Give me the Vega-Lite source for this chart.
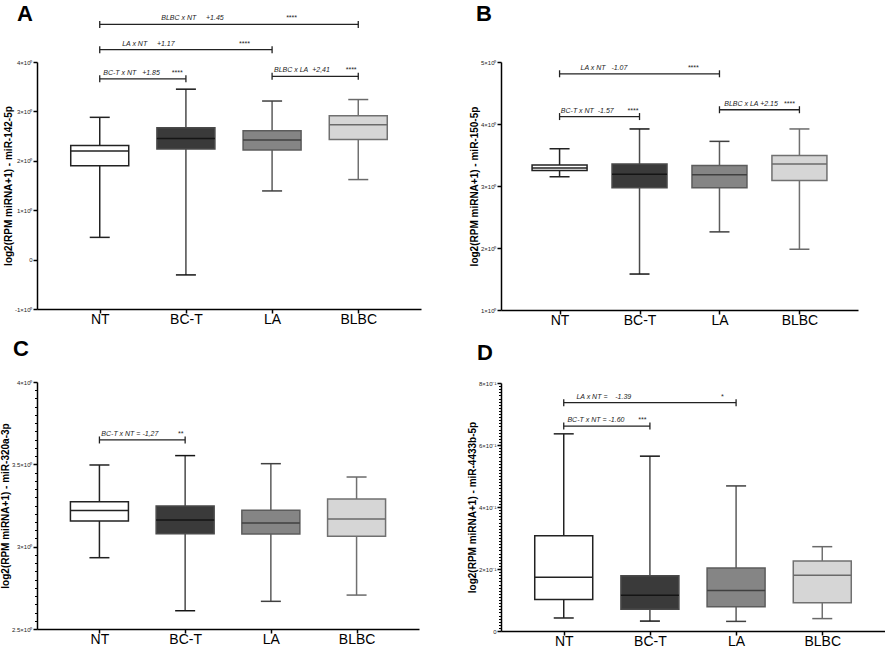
{
  "$schema": "https://vega.github.io/schema/vega-lite/v6.json",
  "padding": {"left": 0, "top": 3, "right": 0, "bottom": 0},
  "spacing": 46,
  "datasets": {
    "boxes": [
      {"panel": "A", "group": "NT", "pos": 1, "min": 0.45, "q1": 1.90, "median": 2.20, "q3": 2.31, "max": 2.88},
      {"panel": "A", "group": "BC-T", "pos": 2, "min": -0.31, "q1": 2.24, "median": 2.45, "q3": 2.67, "max": 3.45},
      {"panel": "A", "group": "LA", "pos": 3, "min": 1.39, "q1": 2.22, "median": 2.42, "q3": 2.61, "max": 3.21},
      {"panel": "A", "group": "BLBC", "pos": 4, "min": 1.62, "q1": 2.43, "median": 2.73, "q3": 2.91, "max": 3.24},
      {"panel": "B", "group": "NT", "pos": 1, "min": 3.15, "q1": 3.25, "median": 3.29, "q3": 3.34, "max": 3.60},
      {"panel": "B", "group": "BC-T", "pos": 2, "min": 1.58, "q1": 2.97, "median": 3.19, "q3": 3.355, "max": 3.92},
      {"panel": "B", "group": "LA", "pos": 3, "min": 2.26, "q1": 2.97, "median": 3.18, "q3": 3.33, "max": 3.72},
      {"panel": "B", "group": "BLBC", "pos": 4, "min": 1.98, "q1": 3.09, "median": 3.355, "q3": 3.49, "max": 3.92},
      {"panel": "C", "group": "NT", "pos": 1, "min": 2.933, "q1": 3.156, "median": 3.219, "q3": 3.273, "max": 3.496},
      {"panel": "C", "group": "BC-T", "pos": 2, "min": 2.611, "q1": 3.079, "median": 3.162, "q3": 3.247, "max": 3.553},
      {"panel": "C", "group": "LA", "pos": 3, "min": 2.668, "q1": 3.077, "median": 3.144, "q3": 3.221, "max": 3.504},
      {"panel": "C", "group": "BLBC", "pos": 4, "min": 2.706, "q1": 3.063, "median": 3.168, "q3": 3.289, "max": 3.423},
      {"panel": "D", "group": "NT", "pos": 1, "min": 0.042, "q1": 0.102, "median": 0.173, "q3": 0.307, "max": 0.636},
      {"panel": "D", "group": "BC-T", "pos": 2, "min": 0.032, "q1": 0.070, "median": 0.115, "q3": 0.178, "max": 0.564},
      {"panel": "D", "group": "LA", "pos": 3, "min": 0.031, "q1": 0.078, "median": 0.131, "q3": 0.2035, "max": 0.468},
      {"panel": "D", "group": "BLBC", "pos": 4, "min": 0.040, "q1": 0.0915, "median": 0.180, "q3": 0.226, "max": 0.272}
    ],
    "brackets": [
      {"panel": "A", "from": 1, "to": 4, "y": 4.76, "label": "BLBC x NT\u00a0\u00a0\u00a0\u00a0\u00a0+1.45\u00a0\u00a0\u00a0\u00a0\u00a0\u00a0\u00a0\u00a0\u00a0\u00a0\u00a0\u00a0\u00a0\u00a0\u00a0\u00a0\u00a0\u00a0\u00a0\u00a0\u00a0\u00a0\u00a0\u00a0\u00a0\u00a0\u00a0\u00a0\u00a0\u00a0\u00a0\u00a0****\u00a0\u00a0"},
      {"panel": "A", "from": 1, "to": 3, "y": 4.25, "label": "LA x NT\u00a0\u00a0\u00a0\u00a0\u00a0+1.17\u00a0\u00a0\u00a0\u00a0\u00a0\u00a0\u00a0\u00a0\u00a0\u00a0\u00a0\u00a0\u00a0\u00a0\u00a0\u00a0\u00a0\u00a0\u00a0\u00a0\u00a0\u00a0\u00a0\u00a0\u00a0\u00a0\u00a0\u00a0\u00a0\u00a0\u00a0\u00a0\u00a0****\u00a0\u00a0"},
      {"panel": "A", "from": 1, "to": 2, "y": 3.66, "label": "BC-T x NT\u00a0\u00a0\u00a0+1.85\u00a0\u00a0\u00a0\u00a0\u00a0\u00a0****\u00a0\u00a0"},
      {"panel": "A", "from": 3, "to": 4, "y": 3.71, "label": "BLBC x LA\u00a0\u00a0+2,41\u00a0\u00a0\u00a0\u00a0\u00a0\u00a0\u00a0\u00a0****\u00a0\u00a0"},
      {"panel": "B", "from": 1, "to": 3, "y": 4.81, "label": "LA x NT\u00a0\u00a0\u00a0-1.07\u00a0\u00a0\u00a0\u00a0\u00a0\u00a0\u00a0\u00a0\u00a0\u00a0\u00a0\u00a0\u00a0\u00a0\u00a0\u00a0\u00a0\u00a0\u00a0\u00a0\u00a0\u00a0\u00a0\u00a0\u00a0\u00a0\u00a0\u00a0\u00a0\u00a0\u00a0****\u00a0\u00a0"},
      {"panel": "B", "from": 1, "to": 2, "y": 4.12, "label": "BC-T x NT\u00a0\u00a0-1.57\u00a0\u00a0\u00a0\u00a0\u00a0\u00a0\u00a0****\u00a0\u00a0"},
      {"panel": "B", "from": 3, "to": 4, "y": 4.23, "label": "BLBC x LA +2.15\u00a0\u00a0\u00a0****\u00a0\u00a0"},
      {"panel": "C", "from": 1, "to": 2, "y": 3.648, "label": "BC-T x NT = -1,27\u00a0\u00a0\u00a0\u00a0\u00a0\u00a0\u00a0\u00a0\u00a0\u00a0**\u00a0"},
      {"panel": "D", "from": 1, "to": 3, "y": 0.7365, "label": "LA x NT =\u00a0\u00a0\u00a0\u00a0-1.39\u00a0\u00a0\u00a0\u00a0\u00a0\u00a0\u00a0\u00a0\u00a0\u00a0\u00a0\u00a0\u00a0\u00a0\u00a0\u00a0\u00a0\u00a0\u00a0\u00a0\u00a0\u00a0\u00a0\u00a0\u00a0\u00a0\u00a0\u00a0\u00a0\u00a0\u00a0\u00a0\u00a0\u00a0\u00a0\u00a0\u00a0\u00a0\u00a0\u00a0\u00a0\u00a0\u00a0\u00a0\u00a0\u00a0*\u00a0"},
      {"panel": "D", "from": 1, "to": 2, "y": 0.661, "label": "BC-T x NT = -1.60\u00a0\u00a0\u00a0\u00a0\u00a0\u00a0\u00a0***\u00a0"}
    ]
  },
  "hconcat": [
    {
      "spacing": 12,
      "vconcat": [
        {
          "width": 384, "height": 247,
          "title": {"text": "A", "anchor": "start", "frame": "group", "fontSize": 22, "fontWeight": "bold", "dx": -20, "offset": -12},
          "layer": [
            {"data": {"name": "boxes"}, "transform": [{"filter": "datum.panel == 'A'"}],
             "mark": {"type": "rule", "strokeWidth": 1.5, "opacity": 1},
             "encoding": {
               "x": {"field": "pos", "type": "quantitative", "scale": {"domain": [0.33, 4.67]}},
               "y": {"field": "min", "type": "quantitative", "scale": {"domain": [-1, 4], "nice": false, "zero": false}},
               "y2": {"field": "max"},
               "stroke": {"field": "group", "type": "nominal", "scale": {"domain": ["NT", "BC-T", "LA", "BLBC"], "range": ["#222222", "#4a4a4a", "#5c5c5c", "#707070"]}, "legend": null}}},
            {"data": {"name": "boxes"}, "transform": [{"filter": "datum.panel == 'A'"}],
             "mark": {"type": "tick", "orient": "horizontal", "size": 20, "thickness": 1.5, "opacity": 1},
             "encoding": {
               "x": {"field": "pos", "type": "quantitative", "scale": {"domain": [0.33, 4.67]}},
               "y": {"field": "min", "type": "quantitative", "scale": {"domain": [-1, 4], "nice": false, "zero": false}},
               "color": {"field": "group", "type": "nominal", "scale": {"domain": ["NT", "BC-T", "LA", "BLBC"], "range": ["#222222", "#151515", "#404040", "#6a6a6a"]}, "legend": null}}},
            {"data": {"name": "boxes"}, "transform": [{"filter": "datum.panel == 'A'"}],
             "mark": {"type": "tick", "orient": "horizontal", "size": 20, "thickness": 1.5, "opacity": 1},
             "encoding": {
               "x": {"field": "pos", "type": "quantitative", "scale": {"domain": [0.33, 4.67]}},
               "y": {"field": "max", "type": "quantitative", "scale": {"domain": [-1, 4], "nice": false, "zero": false}},
               "color": {"field": "group", "type": "nominal", "scale": {"domain": ["NT", "BC-T", "LA", "BLBC"], "range": ["#222222", "#151515", "#404040", "#6a6a6a"]}, "legend": null}}},
            {"data": {"name": "boxes"}, "transform": [{"filter": "datum.panel == 'A'"}],
             "mark": {"type": "bar", "size": 58, "strokeWidth": 1.5, "opacity": 1},
             "encoding": {
               "x": {"field": "pos", "type": "quantitative", "scale": {"domain": [0.33, 4.67]}, "axis": {"orient": "bottom", "values": [1, 2, 3, 4], "labelExpr": "['','NT','BC-T','LA','BLBC'][datum.value]", "title": null}},
               "y": {"field": "q1", "type": "quantitative", "scale": {"domain": [-1, 4], "nice": false, "zero": false}, "axis": {"orient": "left", "values": [-1, 0, 1, 2, 3, 4], "labelExpr": "datum.value == 0 ? '0' : datum.value + '×10⁰'", "title": "log2(RPM miRNA+1) - miR-142-5p"}},
               "y2": {"field": "q3"},
               "fill": {"field": "group", "type": "nominal", "scale": {"domain": ["NT", "BC-T", "LA", "BLBC"], "range": ["#ffffff", "#3a3a3a", "#858585", "#d6d6d6"]}, "legend": null},
               "stroke": {"field": "group", "type": "nominal", "scale": {"domain": ["NT", "BC-T", "LA", "BLBC"], "range": ["#222222", "#4a4a4a", "#5c5c5c", "#707070"]}, "legend": null}}},
            {"data": {"name": "boxes"}, "transform": [{"filter": "datum.panel == 'A'"}],
             "mark": {"type": "tick", "orient": "horizontal", "size": 58, "thickness": 1.5, "opacity": 1},
             "encoding": {
               "x": {"field": "pos", "type": "quantitative", "scale": {"domain": [0.33, 4.67]}},
               "y": {"field": "median", "type": "quantitative", "scale": {"domain": [-1, 4], "nice": false, "zero": false}},
               "color": {"field": "group", "type": "nominal", "scale": {"domain": ["NT", "BC-T", "LA", "BLBC"], "range": ["#222222", "#151515", "#404040", "#6a6a6a"]}, "legend": null}}},
            {"data": {"name": "brackets"}, "transform": [{"filter": "datum.panel == 'A'"}],
             "mark": {"type": "rule", "strokeWidth": 1.3, "color": "#222222", "opacity": 1},
             "encoding": {
               "x": {"field": "from", "type": "quantitative", "scale": {"domain": [0.33, 4.67]}},
               "x2": {"field": "to"},
               "y": {"field": "y", "type": "quantitative", "scale": {"domain": [-1, 4], "nice": false, "zero": false}}}},
            {"data": {"name": "brackets"}, "transform": [{"filter": "datum.panel == 'A'"}, {"fold": ["from", "to"], "as": ["end", "xpos"]}],
             "mark": {"type": "tick", "orient": "vertical", "size": 7, "thickness": 1.3, "color": "#222222", "opacity": 1},
             "encoding": {
               "x": {"field": "xpos", "type": "quantitative", "scale": {"domain": [0.33, 4.67]}},
               "y": {"field": "y", "type": "quantitative", "scale": {"domain": [-1, 4], "nice": false, "zero": false}}}},
            {"data": {"name": "brackets"}, "transform": [{"filter": "datum.panel == 'A'"}, {"fold": ["from", "to"], "as": ["end", "xpos"]}],
             "mark": {"type": "text", "fontSize": 7, "fontStyle": "italic", "color": "#222222", "align": "center", "baseline": "alphabetic", "dy": -4},
             "encoding": {
               "x": {"aggregate": "mean", "field": "xpos", "type": "quantitative", "scale": {"domain": [0.33, 4.67]}},
               "y": {"field": "y", "type": "quantitative", "scale": {"domain": [-1, 4], "nice": false, "zero": false}},
               "text": {"field": "label", "type": "nominal"}}}
          ]
        },
        {
          "width": 382, "height": 247,
          "title": {"text": "C", "anchor": "start", "frame": "group", "fontSize": 22, "fontWeight": "bold", "dx": -24, "offset": 18},
          "resolve": {"axis": {"y": "independent"}},
          "layer": [
            {"data": {"name": "boxes"}, "transform": [{"filter": "datum.panel == 'C'"}],
             "mark": {"type": "rule", "strokeWidth": 1.5, "opacity": 1},
             "encoding": {
               "x": {"field": "pos", "type": "quantitative", "scale": {"domain": [0.33, 4.67]}},
               "y": {"field": "min", "type": "quantitative", "scale": {"domain": [2.5, 4], "nice": false, "zero": false}, "axis": {"orient": "left", "values": [2.55, 2.6, 2.65, 2.7, 2.75, 2.8, 2.85, 2.9, 2.95, 3.05, 3.1, 3.15, 3.2, 3.25, 3.3, 3.35, 3.4, 3.45, 3.55, 3.6, 3.65, 3.7, 3.75, 3.8, 3.85, 3.9, 3.95], "labels": false, "domain": false, "tickSize": 2.5, "tickWidth": 1, "title": null}},
               "y2": {"field": "max"},
               "stroke": {"field": "group", "type": "nominal", "scale": {"domain": ["NT", "BC-T", "LA", "BLBC"], "range": ["#222222", "#4a4a4a", "#5c5c5c", "#707070"]}, "legend": null}}},
            {"data": {"name": "boxes"}, "transform": [{"filter": "datum.panel == 'C'"}],
             "mark": {"type": "tick", "orient": "horizontal", "size": 20, "thickness": 1.5, "opacity": 1},
             "encoding": {
               "x": {"field": "pos", "type": "quantitative", "scale": {"domain": [0.33, 4.67]}},
               "y": {"field": "min", "type": "quantitative", "scale": {"domain": [2.5, 4], "nice": false, "zero": false}, "axis": null},
               "color": {"field": "group", "type": "nominal", "scale": {"domain": ["NT", "BC-T", "LA", "BLBC"], "range": ["#222222", "#151515", "#404040", "#6a6a6a"]}, "legend": null}}},
            {"data": {"name": "boxes"}, "transform": [{"filter": "datum.panel == 'C'"}],
             "mark": {"type": "tick", "orient": "horizontal", "size": 20, "thickness": 1.5, "opacity": 1},
             "encoding": {
               "x": {"field": "pos", "type": "quantitative", "scale": {"domain": [0.33, 4.67]}},
               "y": {"field": "max", "type": "quantitative", "scale": {"domain": [2.5, 4], "nice": false, "zero": false}, "axis": null},
               "color": {"field": "group", "type": "nominal", "scale": {"domain": ["NT", "BC-T", "LA", "BLBC"], "range": ["#222222", "#151515", "#404040", "#6a6a6a"]}, "legend": null}}},
            {"data": {"name": "boxes"}, "transform": [{"filter": "datum.panel == 'C'"}],
             "mark": {"type": "bar", "size": 58, "strokeWidth": 1.5, "opacity": 1},
             "encoding": {
               "x": {"field": "pos", "type": "quantitative", "scale": {"domain": [0.33, 4.67]}, "axis": {"orient": "bottom", "values": [1, 2, 3, 4], "labelExpr": "['','NT','BC-T','LA','BLBC'][datum.value]", "title": null}},
               "y": {"field": "q1", "type": "quantitative", "scale": {"domain": [2.5, 4], "nice": false, "zero": false}, "axis": {"orient": "left", "values": [2.5, 3, 3.5, 4], "labelExpr": "datum.value + '×10⁰'", "title": "log2(RPM miRNA+1) - miR-320a-3p"}},
               "y2": {"field": "q3"},
               "fill": {"field": "group", "type": "nominal", "scale": {"domain": ["NT", "BC-T", "LA", "BLBC"], "range": ["#ffffff", "#3a3a3a", "#858585", "#d6d6d6"]}, "legend": null},
               "stroke": {"field": "group", "type": "nominal", "scale": {"domain": ["NT", "BC-T", "LA", "BLBC"], "range": ["#222222", "#4a4a4a", "#5c5c5c", "#707070"]}, "legend": null}}},
            {"data": {"name": "boxes"}, "transform": [{"filter": "datum.panel == 'C'"}],
             "mark": {"type": "tick", "orient": "horizontal", "size": 58, "thickness": 1.5, "opacity": 1},
             "encoding": {
               "x": {"field": "pos", "type": "quantitative", "scale": {"domain": [0.33, 4.67]}},
               "y": {"field": "median", "type": "quantitative", "scale": {"domain": [2.5, 4], "nice": false, "zero": false}, "axis": null},
               "color": {"field": "group", "type": "nominal", "scale": {"domain": ["NT", "BC-T", "LA", "BLBC"], "range": ["#222222", "#151515", "#404040", "#6a6a6a"]}, "legend": null}}},
            {"data": {"name": "brackets"}, "transform": [{"filter": "datum.panel == 'C'"}],
             "mark": {"type": "rule", "strokeWidth": 1.3, "color": "#222222", "opacity": 1},
             "encoding": {
               "x": {"field": "from", "type": "quantitative", "scale": {"domain": [0.33, 4.67]}},
               "x2": {"field": "to"},
               "y": {"field": "y", "type": "quantitative", "scale": {"domain": [2.5, 4], "nice": false, "zero": false}, "axis": null}}},
            {"data": {"name": "brackets"}, "transform": [{"filter": "datum.panel == 'C'"}, {"fold": ["from", "to"], "as": ["end", "xpos"]}],
             "mark": {"type": "tick", "orient": "vertical", "size": 7, "thickness": 1.3, "color": "#222222", "opacity": 1},
             "encoding": {
               "x": {"field": "xpos", "type": "quantitative", "scale": {"domain": [0.33, 4.67]}},
               "y": {"field": "y", "type": "quantitative", "scale": {"domain": [2.5, 4], "nice": false, "zero": false}, "axis": null}}},
            {"data": {"name": "brackets"}, "transform": [{"filter": "datum.panel == 'C'"}, {"fold": ["from", "to"], "as": ["end", "xpos"]}],
             "mark": {"type": "text", "fontSize": 7, "fontStyle": "italic", "color": "#222222", "align": "center", "baseline": "alphabetic", "dy": -4},
             "encoding": {
               "x": {"aggregate": "mean", "field": "xpos", "type": "quantitative", "scale": {"domain": [0.33, 4.67]}},
               "y": {"field": "y", "type": "quantitative", "scale": {"domain": [2.5, 4], "nice": false, "zero": false}, "axis": null},
               "text": {"field": "label", "type": "nominal"}}}
          ]
        }
      ]
    },
    {
      "spacing": 15,
      "vconcat": [
        {
          "width": 357, "height": 248,
          "title": {"text": "B", "anchor": "start", "frame": "group", "fontSize": 22, "fontWeight": "bold", "dx": -25, "offset": 33},
          "layer": [
            {"data": {"name": "boxes"}, "transform": [{"filter": "datum.panel == 'B'"}],
             "mark": {"type": "rule", "strokeWidth": 1.5, "opacity": 1},
             "encoding": {
               "x": {"field": "pos", "type": "quantitative", "scale": {"domain": [0.33, 4.67]}},
               "y": {"field": "min", "type": "quantitative", "scale": {"domain": [1, 5], "nice": false, "zero": false}},
               "y2": {"field": "max"},
               "stroke": {"field": "group", "type": "nominal", "scale": {"domain": ["NT", "BC-T", "LA", "BLBC"], "range": ["#222222", "#4a4a4a", "#5c5c5c", "#707070"]}, "legend": null}}},
            {"data": {"name": "boxes"}, "transform": [{"filter": "datum.panel == 'B'"}],
             "mark": {"type": "tick", "orient": "horizontal", "size": 20, "thickness": 1.5, "opacity": 1},
             "encoding": {
               "x": {"field": "pos", "type": "quantitative", "scale": {"domain": [0.33, 4.67]}},
               "y": {"field": "min", "type": "quantitative", "scale": {"domain": [1, 5], "nice": false, "zero": false}},
               "color": {"field": "group", "type": "nominal", "scale": {"domain": ["NT", "BC-T", "LA", "BLBC"], "range": ["#222222", "#151515", "#404040", "#6a6a6a"]}, "legend": null}}},
            {"data": {"name": "boxes"}, "transform": [{"filter": "datum.panel == 'B'"}],
             "mark": {"type": "tick", "orient": "horizontal", "size": 20, "thickness": 1.5, "opacity": 1},
             "encoding": {
               "x": {"field": "pos", "type": "quantitative", "scale": {"domain": [0.33, 4.67]}},
               "y": {"field": "max", "type": "quantitative", "scale": {"domain": [1, 5], "nice": false, "zero": false}},
               "color": {"field": "group", "type": "nominal", "scale": {"domain": ["NT", "BC-T", "LA", "BLBC"], "range": ["#222222", "#151515", "#404040", "#6a6a6a"]}, "legend": null}}},
            {"data": {"name": "boxes"}, "transform": [{"filter": "datum.panel == 'B'"}],
             "mark": {"type": "bar", "size": 55, "strokeWidth": 1.5, "opacity": 1},
             "encoding": {
               "x": {"field": "pos", "type": "quantitative", "scale": {"domain": [0.33, 4.67]}, "axis": {"orient": "bottom", "values": [1, 2, 3, 4], "labelExpr": "['','NT','BC-T','LA','BLBC'][datum.value]", "title": null}},
               "y": {"field": "q1", "type": "quantitative", "scale": {"domain": [1, 5], "nice": false, "zero": false}, "axis": {"orient": "left", "values": [1, 2, 3, 4, 5], "labelExpr": "datum.value + '×10⁰'", "title": "log2(RPM miRNA+1) - miR-150-5p"}},
               "y2": {"field": "q3"},
               "fill": {"field": "group", "type": "nominal", "scale": {"domain": ["NT", "BC-T", "LA", "BLBC"], "range": ["#ffffff", "#3a3a3a", "#858585", "#d6d6d6"]}, "legend": null},
               "stroke": {"field": "group", "type": "nominal", "scale": {"domain": ["NT", "BC-T", "LA", "BLBC"], "range": ["#222222", "#4a4a4a", "#5c5c5c", "#707070"]}, "legend": null}}},
            {"data": {"name": "boxes"}, "transform": [{"filter": "datum.panel == 'B'"}],
             "mark": {"type": "tick", "orient": "horizontal", "size": 55, "thickness": 1.5, "opacity": 1},
             "encoding": {
               "x": {"field": "pos", "type": "quantitative", "scale": {"domain": [0.33, 4.67]}},
               "y": {"field": "median", "type": "quantitative", "scale": {"domain": [1, 5], "nice": false, "zero": false}},
               "color": {"field": "group", "type": "nominal", "scale": {"domain": ["NT", "BC-T", "LA", "BLBC"], "range": ["#222222", "#151515", "#404040", "#6a6a6a"]}, "legend": null}}},
            {"data": {"name": "brackets"}, "transform": [{"filter": "datum.panel == 'B'"}],
             "mark": {"type": "rule", "strokeWidth": 1.3, "color": "#222222", "opacity": 1},
             "encoding": {
               "x": {"field": "from", "type": "quantitative", "scale": {"domain": [0.33, 4.67]}},
               "x2": {"field": "to"},
               "y": {"field": "y", "type": "quantitative", "scale": {"domain": [1, 5], "nice": false, "zero": false}}}},
            {"data": {"name": "brackets"}, "transform": [{"filter": "datum.panel == 'B'"}, {"fold": ["from", "to"], "as": ["end", "xpos"]}],
             "mark": {"type": "tick", "orient": "vertical", "size": 7, "thickness": 1.3, "color": "#222222", "opacity": 1},
             "encoding": {
               "x": {"field": "xpos", "type": "quantitative", "scale": {"domain": [0.33, 4.67]}},
               "y": {"field": "y", "type": "quantitative", "scale": {"domain": [1, 5], "nice": false, "zero": false}}}},
            {"data": {"name": "brackets"}, "transform": [{"filter": "datum.panel == 'B'"}, {"fold": ["from", "to"], "as": ["end", "xpos"]}],
             "mark": {"type": "text", "fontSize": 7, "fontStyle": "italic", "color": "#222222", "align": "center", "baseline": "alphabetic", "dy": -4},
             "encoding": {
               "x": {"aggregate": "mean", "field": "xpos", "type": "quantitative", "scale": {"domain": [0.33, 4.67]}},
               "y": {"field": "y", "type": "quantitative", "scale": {"domain": [1, 5], "nice": false, "zero": false}},
               "text": {"field": "label", "type": "nominal"}}}
          ]
        },
        {
          "width": 384, "height": 248,
          "title": {"text": "D", "anchor": "start", "frame": "group", "fontSize": 22, "fontWeight": "bold", "dx": -24, "offset": 15},
          "resolve": {"axis": {"y": "independent"}},
          "layer": [
            {"data": {"name": "boxes"}, "transform": [{"filter": "datum.panel == 'D'"}],
             "mark": {"type": "rule", "strokeWidth": 1.5, "opacity": 1},
             "encoding": {
               "x": {"field": "pos", "type": "quantitative", "scale": {"domain": [0.33, 4.67]}},
               "y": {"field": "min", "type": "quantitative", "scale": {"domain": [0, 0.8], "nice": false, "zero": false}, "axis": {"orient": "left", "values": [0.01, 0.02, 0.03, 0.04, 0.05, 0.06, 0.07, 0.08, 0.09, 0.1, 0.11, 0.12, 0.13, 0.14, 0.15, 0.16, 0.17, 0.18, 0.19, 0.21, 0.22, 0.23, 0.24, 0.25, 0.26, 0.27, 0.28, 0.29, 0.3, 0.31, 0.32, 0.33, 0.34, 0.35, 0.36, 0.37, 0.38, 0.39, 0.41, 0.42, 0.43, 0.44, 0.45, 0.46, 0.47, 0.48, 0.49, 0.5, 0.51, 0.52, 0.53, 0.54, 0.55, 0.56, 0.57, 0.58, 0.59, 0.61, 0.62, 0.63, 0.64, 0.65, 0.66, 0.67, 0.68, 0.69, 0.7, 0.71, 0.72, 0.73, 0.74, 0.75, 0.76, 0.77, 0.78, 0.79], "labels": false, "domain": false, "tickSize": 2.5, "tickWidth": 1, "title": null}},
               "y2": {"field": "max"},
               "stroke": {"field": "group", "type": "nominal", "scale": {"domain": ["NT", "BC-T", "LA", "BLBC"], "range": ["#222222", "#4a4a4a", "#5c5c5c", "#707070"]}, "legend": null}}},
            {"data": {"name": "boxes"}, "transform": [{"filter": "datum.panel == 'D'"}],
             "mark": {"type": "tick", "orient": "horizontal", "size": 20, "thickness": 1.5, "opacity": 1},
             "encoding": {
               "x": {"field": "pos", "type": "quantitative", "scale": {"domain": [0.33, 4.67]}},
               "y": {"field": "min", "type": "quantitative", "scale": {"domain": [0, 0.8], "nice": false, "zero": false}, "axis": null},
               "color": {"field": "group", "type": "nominal", "scale": {"domain": ["NT", "BC-T", "LA", "BLBC"], "range": ["#222222", "#151515", "#404040", "#6a6a6a"]}, "legend": null}}},
            {"data": {"name": "boxes"}, "transform": [{"filter": "datum.panel == 'D'"}],
             "mark": {"type": "tick", "orient": "horizontal", "size": 20, "thickness": 1.5, "opacity": 1},
             "encoding": {
               "x": {"field": "pos", "type": "quantitative", "scale": {"domain": [0.33, 4.67]}},
               "y": {"field": "max", "type": "quantitative", "scale": {"domain": [0, 0.8], "nice": false, "zero": false}, "axis": null},
               "color": {"field": "group", "type": "nominal", "scale": {"domain": ["NT", "BC-T", "LA", "BLBC"], "range": ["#222222", "#151515", "#404040", "#6a6a6a"]}, "legend": null}}},
            {"data": {"name": "boxes"}, "transform": [{"filter": "datum.panel == 'D'"}],
             "mark": {"type": "bar", "size": 58, "strokeWidth": 1.5, "opacity": 1},
             "encoding": {
               "x": {"field": "pos", "type": "quantitative", "scale": {"domain": [0.33, 4.67]}, "axis": {"orient": "bottom", "values": [1, 2, 3, 4], "labelExpr": "['','NT','BC-T','LA','BLBC'][datum.value]", "title": null}},
               "y": {"field": "q1", "type": "quantitative", "scale": {"domain": [0, 0.8], "nice": false, "zero": false}, "axis": {"orient": "left", "values": [0, 0.2, 0.4, 0.6, 0.8], "labelExpr": "datum.value == 0 ? '0' : round(datum.value * 10) + '×10⁻¹'", "title": "log2(RPM miRNA+1) - miR-4433b-5p"}},
               "y2": {"field": "q3"},
               "fill": {"field": "group", "type": "nominal", "scale": {"domain": ["NT", "BC-T", "LA", "BLBC"], "range": ["#ffffff", "#3a3a3a", "#858585", "#d6d6d6"]}, "legend": null},
               "stroke": {"field": "group", "type": "nominal", "scale": {"domain": ["NT", "BC-T", "LA", "BLBC"], "range": ["#222222", "#4a4a4a", "#5c5c5c", "#707070"]}, "legend": null}}},
            {"data": {"name": "boxes"}, "transform": [{"filter": "datum.panel == 'D'"}],
             "mark": {"type": "tick", "orient": "horizontal", "size": 58, "thickness": 1.5, "opacity": 1},
             "encoding": {
               "x": {"field": "pos", "type": "quantitative", "scale": {"domain": [0.33, 4.67]}},
               "y": {"field": "median", "type": "quantitative", "scale": {"domain": [0, 0.8], "nice": false, "zero": false}, "axis": null},
               "color": {"field": "group", "type": "nominal", "scale": {"domain": ["NT", "BC-T", "LA", "BLBC"], "range": ["#222222", "#151515", "#404040", "#6a6a6a"]}, "legend": null}}},
            {"data": {"name": "brackets"}, "transform": [{"filter": "datum.panel == 'D'"}],
             "mark": {"type": "rule", "strokeWidth": 1.3, "color": "#222222", "opacity": 1},
             "encoding": {
               "x": {"field": "from", "type": "quantitative", "scale": {"domain": [0.33, 4.67]}},
               "x2": {"field": "to"},
               "y": {"field": "y", "type": "quantitative", "scale": {"domain": [0, 0.8], "nice": false, "zero": false}, "axis": null}}},
            {"data": {"name": "brackets"}, "transform": [{"filter": "datum.panel == 'D'"}, {"fold": ["from", "to"], "as": ["end", "xpos"]}],
             "mark": {"type": "tick", "orient": "vertical", "size": 7, "thickness": 1.3, "color": "#222222", "opacity": 1},
             "encoding": {
               "x": {"field": "xpos", "type": "quantitative", "scale": {"domain": [0.33, 4.67]}},
               "y": {"field": "y", "type": "quantitative", "scale": {"domain": [0, 0.8], "nice": false, "zero": false}, "axis": null}}},
            {"data": {"name": "brackets"}, "transform": [{"filter": "datum.panel == 'D'"}, {"fold": ["from", "to"], "as": ["end", "xpos"]}],
             "mark": {"type": "text", "fontSize": 7, "fontStyle": "italic", "color": "#222222", "align": "center", "baseline": "alphabetic", "dy": -4},
             "encoding": {
               "x": {"aggregate": "mean", "field": "xpos", "type": "quantitative", "scale": {"domain": [0.33, 4.67]}},
               "y": {"field": "y", "type": "quantitative", "scale": {"domain": [0, 0.8], "nice": false, "zero": false}, "axis": null},
               "text": {"field": "label", "type": "nominal"}}}
          ]
        }
      ]
    }
  ],
  "config": {
    "view": {"stroke": null},
    "font": "Liberation Sans",
    "axis": {"grid": false, "domainColor": "#000000", "tickColor": "#000000", "domainWidth": 1.5, "tickWidth": 1.5},
    "axisX": {"labelFontSize": 14, "labelColor": "#000000", "tickSize": 4, "labelPadding": -1},
    "axisY": {"labelFontSize": 6, "labelColor": "#222222", "tickSize": 4, "labelPadding": 1, "titleFontSize": 10, "titleFontWeight": "bold", "titleColor": "#000000", "titlePadding": 1},
    "title": {"color": "#000000"}
  }
}
